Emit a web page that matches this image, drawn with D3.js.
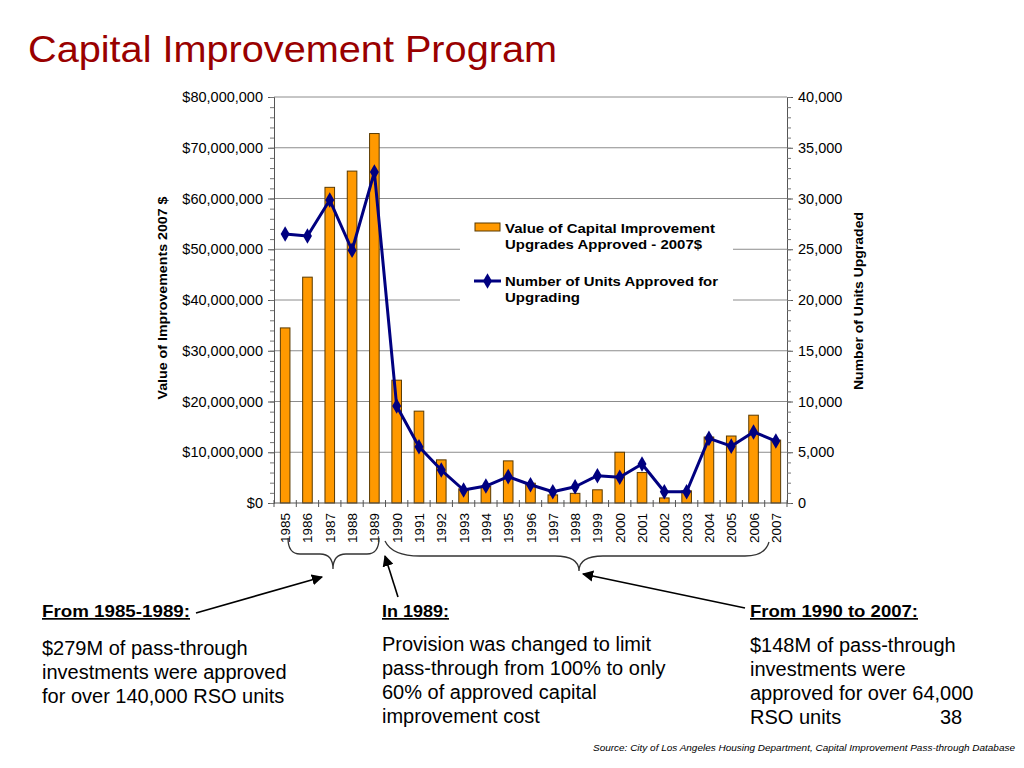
<!DOCTYPE html>
<html>
<head>
<meta charset="utf-8">
<script src="https://cdn.jsdelivr.net/npm/d3@7"></script>
<style>
  body { margin: 0; background: #fff; }
  svg { font-family: "Liberation Sans", Arial, sans-serif; }
</style>
</head>
<body>
<svg id="viz" width="1024" height="768"></svg>
<script>
  // years on the category axis
  let years = [1985, 1986, 1987, 1988, 1989, 1990, 1991, 1992, 1993, 1994, 1995, 1996,
               1997, 1998, 1999, 2000, 2001, 2002, 2003, 2004, 2005, 2006, 2007];
  // value of capital improvements approved (2007 $)
  let values = [34.5e6, 44.5e6, 62.2e6, 65.4e6, 72.8e6, 24.2e6, 18.1e6, 8.5e6, 2.8e6, 3.3e6,
                8.3e6, 3.9e6, 1.6e6, 1.9e6, 2.6e6, 10.0e6, 6.0e6, 1.0e6, 2.4e6, 13.0e6,
                13.2e6, 17.3e6, 12.4e6];
  // number of units approved for upgrading
  let units = [26500, 26300, 29850, 24900, 32600, 9560, 5550, 3250, 1280, 1670,
               2600, 1800, 1110, 1600, 2690, 2530, 3840, 1110, 1110, 6370,
               5600, 7000, 6100];
  let leftTicks = [0, 10e6, 20e6, 30e6, 40e6, 50e6, 60e6, 70e6, 80e6];
  let rightTicks = [0, 5000, 10000, 15000, 20000, 25000, 30000, 35000, 40000];

  let svg = d3.select("#viz");
  let plotL = 274, plotR = 787, plotT = 97, plotB = 503;

  let x = d3.scaleBand().domain(years).range([plotL, plotR]);
  let yL = d3.scaleLinear().domain([0, 80e6]).range([plotB, plotT]);
  let yR = d3.scaleLinear().domain([0, 40000]).range([plotB, plotT]);

  // title
  svg.append("text").attr("x", 28).attr("y", 62)
    .attr("font-size", 37).attr("fill", "#990000")
    .attr("textLength", 529).attr("lengthAdjust", "spacingAndGlyphs")
    .text("Capital Improvement Program");

  // gridlines
  svg.append("g").selectAll("line").data(leftTicks.slice(1)).enter()
    .append("line")
    .attr("x1", plotL).attr("x2", plotR)
    .attr("y1", d => yL(d)).attr("y2", d => yL(d))
    .attr("stroke", "#8c8c8c").attr("stroke-width", 1);

  // legend background hides gridlines behind it
  svg.append("rect").attr("x", 460).attr("y", 206).attr("width", 273).attr("height", 138)
    .attr("fill", "#fff");

  // bars
  let bw = x.bandwidth() * 0.43;
  svg.append("g").selectAll("rect").data(values).enter()
    .append("rect")
    .attr("x", (d, i) => x(years[i]) + x.bandwidth() / 2 - bw / 2)
    .attr("y", d => yL(d))
    .attr("width", bw)
    .attr("height", d => plotB - yL(d))
    .attr("fill", "#ff9900")
    .attr("stroke", "#5a3a00").attr("stroke-width", 1);

  // left axis
  let axL = svg.append("g").attr("transform", `translate(${plotL},0)`)
    .call(d3.axisLeft(yL).tickValues(leftTicks).tickSize(6).tickPadding(5)
      .tickFormat(d => "$" + d3.format(",")(d)));
  axL.selectAll("text").attr("font-size", 14.5).attr("fill", "#000")
    .attr("font-family", "Liberation Sans, Arial, sans-serif");
  axL.select(".domain").attr("stroke", "#555");
  axL.selectAll(".tick line").attr("stroke", "#555");
  svg.append("g").attr("transform", `translate(${plotL},0)`)
    .call(d3.axisLeft(yL).ticks(40).tickSize(4).tickFormat(""))
    .call(g => g.select(".domain").remove())
    .selectAll("line").attr("stroke", "#777");

  // right axis
  let axR = svg.append("g").attr("transform", `translate(${plotR},0)`)
    .call(d3.axisRight(yR).tickValues(rightTicks).tickSize(6).tickPadding(5)
      .tickFormat(d3.format(",")));
  axR.selectAll("text").attr("font-size", 14.5).attr("fill", "#000")
    .attr("font-family", "Liberation Sans, Arial, sans-serif");
  axR.select(".domain").attr("stroke", "#555");
  axR.selectAll(".tick line").attr("stroke", "#555");
  svg.append("g").attr("transform", `translate(${plotR},0)`)
    .call(d3.axisRight(yR).ticks(40).tickSize(4).tickFormat(""))
    .call(g => g.select(".domain").remove())
    .selectAll("line").attr("stroke", "#777");

  // bottom axis
  svg.append("line").attr("x1", plotL).attr("x2", plotR)
    .attr("y1", plotB).attr("y2", plotB).attr("stroke", "#555");
  svg.append("g").selectAll("line").data(years.concat([null])).enter()
    .append("line")
    .attr("x1", (d, i) => plotL + i * x.bandwidth())
    .attr("x2", (d, i) => plotL + i * x.bandwidth())
    .attr("y1", plotB - 3).attr("y2", plotB + 4)
    .attr("stroke", "#555");
  svg.append("g").selectAll("text").data(years).enter()
    .append("text")
    .attr("transform", d => `translate(${x(d) + x.bandwidth() / 2 + 5},${plotB + 10}) rotate(-90)`)
    .attr("text-anchor", "end")
    .attr("font-size", 13.5)
    .text(d => d);

  // units line
  let line = d3.line()
    .x((d, i) => x(years[i]) + x.bandwidth() / 2)
    .y(d => yR(d));
  svg.append("path").datum(units)
    .attr("d", line).attr("fill", "none")
    .attr("stroke", "#000080").attr("stroke-width", 3).attr("stroke-linejoin", "round");
  let diamond = d3.symbol().type(d3.symbolDiamond).size(70);
  svg.append("g").selectAll("path").data(units).enter()
    .append("path")
    .attr("d", diamond)
    .attr("transform", (d, i) => `translate(${x(years[i]) + x.bandwidth() / 2},${yR(d)})`)
    .attr("fill", "#000080");

  // axis titles
  svg.append("text")
    .attr("transform", "translate(167,298) rotate(-90)")
    .attr("text-anchor", "middle").attr("font-size", 13).attr("font-weight", "bold")
    .attr("textLength", 203).attr("lengthAdjust", "spacingAndGlyphs")
    .text("Value of Improvements 2007 $");
  svg.append("text")
    .attr("transform", "translate(863,301) rotate(-90)")
    .attr("text-anchor", "middle").attr("font-size", 13).attr("font-weight", "bold")
    .attr("textLength", 178).attr("lengthAdjust", "spacingAndGlyphs")
    .text("Number of Units Upgraded");

  // legend
  let legendRows = [
    { y: 233, lines: ["Value of Capital Improvement", "Upgrades Approved - 2007$"], w: [210, 197] },
    { y: 286, lines: ["Number of Units Approved for", "Upgrading"], w: [213, 75] }
  ];
  svg.append("rect").attr("x", 475).attr("y", 223).attr("width", 25).attr("height", 8)
    .attr("fill", "#ff9900").attr("stroke", "#5a3a00");
  svg.append("line").attr("x1", 474).attr("x2", 501).attr("y1", 281).attr("y2", 281)
    .attr("stroke", "#000080").attr("stroke-width", 3);
  svg.append("path").attr("d", diamond).attr("transform", "translate(487.5,281)").attr("fill", "#000080");
  legendRows.forEach(r => {
    r.lines.forEach((t, i) => {
      svg.append("text").attr("x", 505).attr("y", r.y + i * 16)
        .attr("font-size", 13.5).attr("font-weight", "bold")
        .attr("textLength", r.w[i]).attr("lengthAdjust", "spacingAndGlyphs")
        .text(t);
    });
  });

  // braces
  let braces = svg.append("g").attr("fill", "none").attr("stroke", "#333").attr("stroke-width", 1.3);
  braces.append("path").attr("d",
    "M288,538 Q288,554 300,554 L320,554 Q333,554 333,569 Q333,554 346,554 L367,554 Q379,554 379,538");
  braces.append("path").attr("d",
    "M385,541 Q392,556 420,556 L555,556 Q579,556 579,571 Q579,556 603,556 L745,556 Q765,556 769,542");

  // arrows
  svg.append("defs").append("marker")
    .attr("id", "ah").attr("viewBox", "0 0 10 10").attr("refX", 9).attr("refY", 5)
    .attr("markerWidth", 7).attr("markerHeight", 7).attr("orient", "auto")
    .append("path").attr("d", "M0,0 L10,5 L0,10 z").attr("fill", "#000");
  let arrows = [[196, 613, 322, 577], [398, 597, 385, 556], [745, 608, 583, 574]];
  svg.append("g").selectAll("line").data(arrows).enter()
    .append("line")
    .attr("x1", d => d[0]).attr("y1", d => d[1]).attr("x2", d => d[2]).attr("y2", d => d[3])
    .attr("stroke", "#000").attr("stroke-width", 1.6).attr("marker-end", "url(#ah)");

  // annotation blocks
  let notes = [
    { x: 42, head: "From 1985-1989:", hw: 148, lines: ["$279M of pass-through", "investments were approved", "for over 140,000 RSO units"], y0: 655 },
    { x: 382, head: "In 1989:", hw: 67, lines: ["Provision was changed to limit", "pass-through from 100% to only", "60% of approved capital", "improvement cost"], y0: 651 },
    { x: 750, head: "From 1990 to 2007:", hw: 168, lines: ["$148M of pass-through", "investments were", "approved for over 64,000", "RSO units"], y0: 652 }
  ];
  notes.forEach(n => {
    svg.append("text").attr("x", n.x).attr("y", 617)
      .attr("font-size", 17).attr("font-weight", "bold").attr("text-decoration", "underline")
      .attr("textLength", n.hw).attr("lengthAdjust", "spacingAndGlyphs")
      .text(n.head);
    svg.append("text").attr("font-size", 20)
      .selectAll("tspan").data(n.lines).enter()
      .append("tspan").attr("x", n.x).attr("y", (d, i) => n.y0 + i * 24).text(d => d);
  });
  svg.append("text").attr("x", 940).attr("y", 724).attr("font-size", 20).text("38");

  svg.append("text").attr("x", 1015).attr("y", 751).attr("text-anchor", "end")
    .attr("font-size", 9.5).attr("font-style", "italic")
    .attr("textLength", 422).attr("lengthAdjust", "spacingAndGlyphs")
    .text("Source: City of Los Angeles Housing Department, Capital Improvement Pass-through Database");
</script>
</body>
</html>
